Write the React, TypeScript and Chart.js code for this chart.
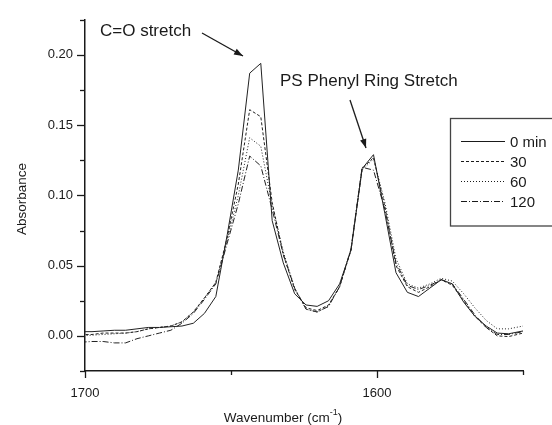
import React, { useEffect, useRef } from "react";
import { Chart, registerables } from "chart.js";

Chart.register(...registerables);

const wavenumbers = [
  1701.5, 1697.6, 1693.8, 1689.9, 1686.1, 1682.2, 1678.3, 1674.5, 1670.6, 1666.8,
  1662.9, 1659.1, 1655.2, 1651.3, 1647.5, 1643.6, 1639.8, 1635.9, 1632.1, 1628.2,
  1624.3, 1620.5, 1616.6, 1612.8, 1608.9, 1605.1, 1601.2, 1597.3, 1593.5, 1589.6,
  1585.8, 1581.9, 1578.0, 1574.2, 1570.3, 1566.5, 1562.6, 1558.8, 1554.9, 1550.0,
];

const min0 = [
  0.003, 0.003, 0.0035, 0.004, 0.004, 0.005, 0.006, 0.006, 0.0065, 0.007,
  0.009, 0.016, 0.028, 0.072, 0.118, 0.187, 0.194, 0.082, 0.052, 0.030,
  0.022, 0.021, 0.025, 0.037, 0.061, 0.119, 0.129, 0.087, 0.045, 0.031,
  0.028, 0.034, 0.040, 0.037, 0.024, 0.014, 0.007, 0.002, 0.0015, 0.0035,
];
const min30 = [
  0.001, 0.001, 0.002, 0.002, 0.002, 0.003, 0.005, 0.006, 0.007, 0.010,
  0.017, 0.027, 0.038, 0.070, 0.108, 0.161, 0.156, 0.095, 0.058, 0.033,
  0.020, 0.018, 0.022, 0.035, 0.061, 0.119, 0.127, 0.092, 0.050, 0.035,
  0.031, 0.035, 0.040, 0.036, 0.025, 0.014, 0.006, 0.0, -0.0005, 0.002,
];
const min60 = [
  0.0, 0.0005, 0.001, 0.0015, 0.002, 0.003, 0.005, 0.006, 0.007, 0.010,
  0.017, 0.027, 0.038, 0.068, 0.100, 0.141, 0.135, 0.093, 0.060, 0.034,
  0.019, 0.017, 0.021, 0.035, 0.062, 0.118, 0.126, 0.095, 0.055, 0.037,
  0.034, 0.037, 0.041, 0.039, 0.030, 0.020, 0.011, 0.005, 0.005, 0.007,
];
const min120 = [
  -0.0045, -0.004, -0.004, -0.005, -0.005, -0.002, 0.0, 0.002, 0.004, 0.009,
  0.016, 0.026, 0.037, 0.066, 0.094, 0.128, 0.121, 0.090, 0.058, 0.034,
  0.019, 0.017, 0.021, 0.035, 0.062, 0.120, 0.118, 0.090, 0.052, 0.036,
  0.033, 0.036, 0.040, 0.037, 0.026, 0.015, 0.006, 0.001, 0.001, 0.003,
];

const seriesLabels = ["0 min", "30", "60", "120"];
const seriesDashes: number[][] = [[], [3, 2], [1, 2], [6, 2, 1, 2]];

const yMajorTicks = [0, 0.05, 0.1, 0.15, 0.2];
const yMinorTicks = [-0.025, 0.025, 0.075, 0.125, 0.175, 0.225];
const xMajorTicks = [1700, 1600];
const xMinorTicks = [1650, 1550];

const FONT = "'Liberation Sans', Arial, sans-serif";
const INK = "#1a1a1a";

function arrow(ctx: CanvasRenderingContext2D, x1: number, y1: number, x2: number, y2: number) {
  ctx.save();
  ctx.strokeStyle = INK;
  ctx.fillStyle = INK;
  ctx.lineWidth = 1.3;
  ctx.beginPath();
  ctx.moveTo(x1, y1);
  ctx.lineTo(x2, y2);
  ctx.stroke();
  const a = Math.atan2(y2 - y1, x2 - x1);
  const L = 9, W = 3.2;
  ctx.beginPath();
  ctx.moveTo(x2, y2);
  ctx.lineTo(x2 - L * Math.cos(a) + W * Math.sin(a), y2 - L * Math.sin(a) - W * Math.cos(a));
  ctx.lineTo(x2 - L * Math.cos(a) - W * Math.sin(a), y2 - L * Math.sin(a) + W * Math.cos(a));
  ctx.closePath();
  ctx.fill();
  ctx.restore();
}

const decorPlugin = {
  id: "decor",
  afterDraw(chart: any) {
    const ctx: CanvasRenderingContext2D = chart.ctx;
    const xs = chart.scales.x;
    const ys = chart.scales.y;
    const { left, bottom } = chart.chartArea;
    ctx.save();
    ctx.strokeStyle = INK;
    ctx.lineWidth = 1.3;
    // y ticks
    const yt = (v: number, len: number) => {
      const p = Math.round(ys.getPixelForValue(v)) + 0.5;
      ctx.beginPath();
      ctx.moveTo(left - len, p);
      ctx.lineTo(left, p);
      ctx.stroke();
    };
    yMajorTicks.forEach((v) => yt(v, 8));
    yMinorTicks.forEach((v) => yt(v, 5));
    const xt = (v: number, len: number) => {
      const p = Math.round(xs.getPixelForValue(v)) + 0.5;
      ctx.beginPath();
      ctx.moveTo(p, bottom);
      ctx.lineTo(p, bottom + len);
      ctx.stroke();
    };
    xMajorTicks.forEach((v) => xt(v, 7));
    xMinorTicks.forEach((v) => xt(v, 4));

    // axis titles
    ctx.fillStyle = INK;
    ctx.font = `13.5px ${FONT}`;
    ctx.textAlign = "left";
    ctx.textBaseline = "alphabetic";
    const t1 = "Wavenumber (cm";
    const w1 = ctx.measureText(t1).width;
    ctx.font = `9px ${FONT}`;
    const sup = "-1";
    const ws = ctx.measureText(sup).width;
    ctx.font = `13.5px ${FONT}`;
    const w2 = ctx.measureText(")").width;
    const total = w1 + ws + w2;
    let tx = 283 - total / 2;
    const ty = 422;
    ctx.fillText(t1, tx, ty);
    ctx.font = `9px ${FONT}`;
    ctx.fillText(sup, tx + w1, ty - 7);
    ctx.font = `13.5px ${FONT}`;
    ctx.fillText(")", tx + w1 + ws, ty);

    ctx.save();
    ctx.translate(26, 199);
    ctx.rotate(-Math.PI / 2);
    ctx.textAlign = "center";
    ctx.font = `13.5px ${FONT}`;
    ctx.fillText("Absorbance", 0, 0);
    ctx.restore();

    // annotations
    ctx.font = `17px ${FONT}`;
    ctx.textAlign = "left";
    ctx.fillText("C=O stretch", 100, 36);
    ctx.fillText("PS Phenyl Ring Stretch", 280, 86);
    arrow(ctx, 202, 33, 243, 56);
    arrow(ctx, 350, 100, 366, 148);

    // legend
    ctx.strokeStyle = "#444";
    ctx.lineWidth = 1.3;
    ctx.strokeRect(450.5, 118.5, 140, 107.5);
    const rowsY = [141.5, 161.5, 181.5, 201.5];
    ctx.font = `15px ${FONT}`;
    ctx.textBaseline = "middle";
    chart.data.datasets.forEach((ds: any, i: number) => {
      ctx.save();
      ctx.strokeStyle = INK;
      ctx.lineWidth = 1;
      ctx.setLineDash(ds.borderDash || []);
      ctx.beginPath();
      ctx.moveTo(461, rowsY[i]);
      ctx.lineTo(505, rowsY[i]);
      ctx.stroke();
      ctx.restore();
      ctx.fillStyle = INK;
      ctx.fillText(ds.label, 510, rowsY[i] + 1);
    });
    ctx.restore();
  },
};

export default function App() {
  const ref = useRef<HTMLCanvasElement | null>(null);
  useEffect(() => {
    if (!ref.current) return;
    const all = [min0, min30, min60, min120];
    const chart = new Chart(ref.current, {
      type: "line",
      data: {
        datasets: all.map((vals, i) => ({
          label: seriesLabels[i],
          data: wavenumbers.map((w, j) => ({ x: w, y: vals[j] })),
          borderColor: "#222",
          borderWidth: 1,
          borderDash: seriesDashes[i],
          pointRadius: 0,
          tension: 0,
          fill: false,
        })),
      },
      options: {
        animation: false,
        responsive: false,
        devicePixelRatio: 1,
        layout: { padding: { left: 0, top: 15, right: 29, bottom: 0 } },
        plugins: { legend: { display: false }, tooltip: { enabled: false } },
        scales: {
          x: {
            type: "linear",
            reverse: true,
            min: 1550,
            max: 1700,
            afterFit: (s: any) => { s.height = 54; },
            afterBuildTicks: (s: any) => { s.ticks = xMajorTicks.map((v) => ({ value: v })); },
            grid: { display: false, drawTicks: false, tickLength: 0 },
            border: { display: true, color: INK, width: 1.5 },
            ticks: {
              padding: 15,
              color: INK,
              font: { family: FONT, size: 13 },
              maxRotation: 0,
              callback: (v: any) => String(v),
            },
          },
          y: {
            type: "linear",
            min: -0.025,
            max: 0.225,
            afterFit: (s: any) => { s.width = 85; },
            afterBuildTicks: (s: any) => { s.ticks = yMajorTicks.map((v) => ({ value: v })); },
            grid: { display: false, drawTicks: false, tickLength: 0 },
            border: { display: true, color: INK, width: 1.5 },
            ticks: {
              padding: 12,
              color: INK,
              font: { family: FONT, size: 13 },
              callback: (v: any) => Number(v).toFixed(2),
            },
          },
        },
      },
      plugins: [decorPlugin],
    });
    return () => chart.destroy();
  }, []);
  return (
    <div style={{ position: "absolute", left: 0, top: 0, width: 552, height: 425, background: "#fff" }}>
      <canvas ref={ref} width={552} height={425} style={{ display: "block" }} />
    </div>
  );
}
